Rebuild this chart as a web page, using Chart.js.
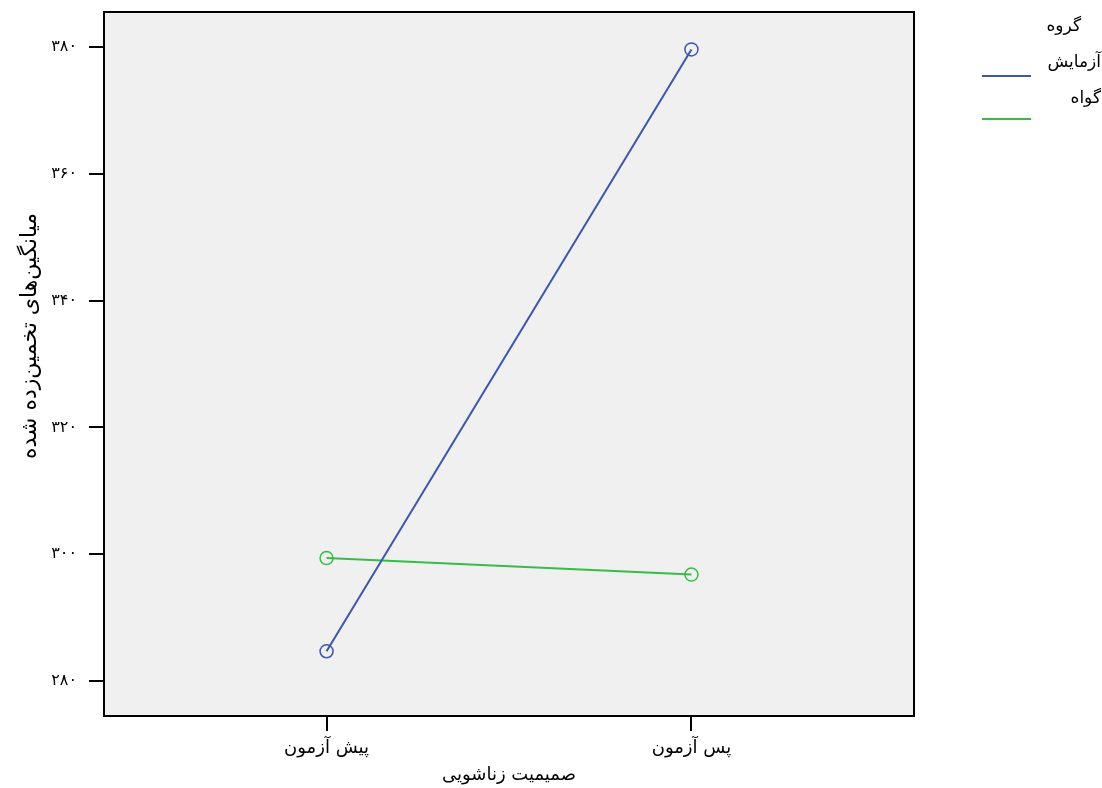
<!DOCTYPE html>
<html lang="fa">
<head>
<meta charset="utf-8">
<script src="https://cdn.jsdelivr.net/npm/chart.js@4.4.1/dist/chart.umd.min.js"></script>
<style>
  html, body { margin: 0; padding: 0; background: #ffffff; }
  #wrap { width: 1102px; height: 788px; position: relative; }
</style>
</head>
<body>
<div id="wrap"><canvas id="c" width="1102" height="788"></canvas></div>
<script>
// Time points (x categories) and estimated marginal means per group
const timeLabels = ['پیش آزمون', 'پس آزمون'];
const groupNames = ['آزمایش', 'گواه'];
const experimentalMeans = [284.7, 379.6];
const controlMeans = [299.4, 296.8];
const yTickValues = [280, 300, 320, 340, 360, 380];

const legendTitle = 'گروه';
const xTitle = 'صمیمیت زناشویی';
const yTitle = 'میانگین‌های تخمین‌زده شده';

const BLUE = '#3d55aa';
const GREEN = '#35bd45';
const FONT = '"DejaVu Sans", sans-serif';

const persianDigits = '۰۱۲۳۴۵۶۷۸۹';
const toPersian = n => String(n).replace(/[0-9]/g, d => persianDigits[+d]);

const seriesColors = [BLUE, GREEN];
const seriesValues = [experimentalMeans, controlMeans];

const datasets = seriesValues.map((vals, i) => ({
  label: groupNames[i],
  data: vals.map((v, k) => ({ x: k, y: v })),
  borderColor: seriesColors[i],
  borderWidth: 2,
  backgroundColor: 'rgba(0,0,0,0)',
  pointStyle: 'circle',
  pointRadius: 6.5,
  pointBorderWidth: 1.5,
  pointBackgroundColor: 'rgba(0,0,0,0)',
  pointBorderColor: seriesColors[i],
  tension: 0
}));

// Plot background, frame, axis titles and the group legend
const decor = {
  id: 'decor',
  beforeDatasetsDraw(chart) {
    const { ctx, chartArea: a } = chart;
    ctx.save();
    ctx.fillStyle = '#f0f0f0';
    ctx.fillRect(a.left, a.top, a.right - a.left, a.bottom - a.top);
    ctx.restore();
  },
  afterDraw(chart) {
    const { ctx, chartArea: a } = chart;
    ctx.save();
    ctx.strokeStyle = '#000';
    ctx.lineWidth = 2;
    ctx.strokeRect(a.left, a.top, a.right - a.left, a.bottom - a.top);

    ctx.fillStyle = '#000';
    ctx.textBaseline = 'middle';
    ctx.textAlign = 'center';
    ctx.font = '18px ' + FONT;
    ctx.fillText(xTitle, (a.left + a.right) / 2, 775);

    ctx.save();
    ctx.translate(30, 336);
    ctx.rotate(-Math.PI / 2);
    ctx.font = '22px ' + FONT;
    ctx.fillText(yTitle, 0, 0);
    ctx.restore();

    // legend
    ctx.textAlign = 'right';
    ctx.font = '17px ' + FONT;
    ctx.fillText(legendTitle, 1081, 27);
    const rows = [63, 99];
    const lineYs = [76, 119];
    groupNames.forEach((name, i) => {
      ctx.fillStyle = '#000';
      ctx.fillText(name, 1101, rows[i]);
      ctx.strokeStyle = seriesColors[i];
      ctx.lineWidth = 2;
      ctx.beginPath();
      ctx.moveTo(982, lineYs[i]);
      ctx.lineTo(1031, lineYs[i]);
      ctx.stroke();
    });
    ctx.restore();
  }
};

new Chart(document.getElementById('c'), {
  type: 'line',
  data: { datasets },
  options: {
    responsive: false,
    animation: false,
    events: [],
    layout: { padding: { top: 12, right: 188, left: 0, bottom: 0 } },
    plugins: { legend: { display: false }, tooltip: { enabled: false } },
    scales: {
      x: {
        type: 'linear',
        min: -0.61,
        max: 1.61,
        afterBuildTicks: s => { s.ticks = timeLabels.map((_, i) => ({ value: i })); },
        afterFit: s => { s.height = 72; s.paddingLeft = 0; s.paddingRight = 0; },
        ticks: {
          callback: v => timeLabels[v],
          color: '#000',
          font: { family: FONT, size: 18 },
          padding: 7,
          maxRotation: 0
        },
        grid: { drawOnChartArea: false, tickLength: 15, color: '#000', lineWidth: 2 },
        border: { display: true, color: '#000', width: 2 }
      },
      y: {
        min: 274.5,
        max: 385.5,
        afterBuildTicks: s => { s.ticks = yTickValues.map(v => ({ value: v })); },
        afterFit: s => { s.width = 104; s.paddingTop = 0; s.paddingBottom = 0; },
        ticks: {
          callback: v => toPersian(v),
          color: '#000',
          font: { family: FONT, size: 16 },
          padding: 12
        },
        grid: { drawOnChartArea: false, tickLength: 15, color: '#000', lineWidth: 2 },
        border: { display: true, color: '#000', width: 2 }
      }
    }
  },
  plugins: [decor]
});
</script>
</body>
</html>
